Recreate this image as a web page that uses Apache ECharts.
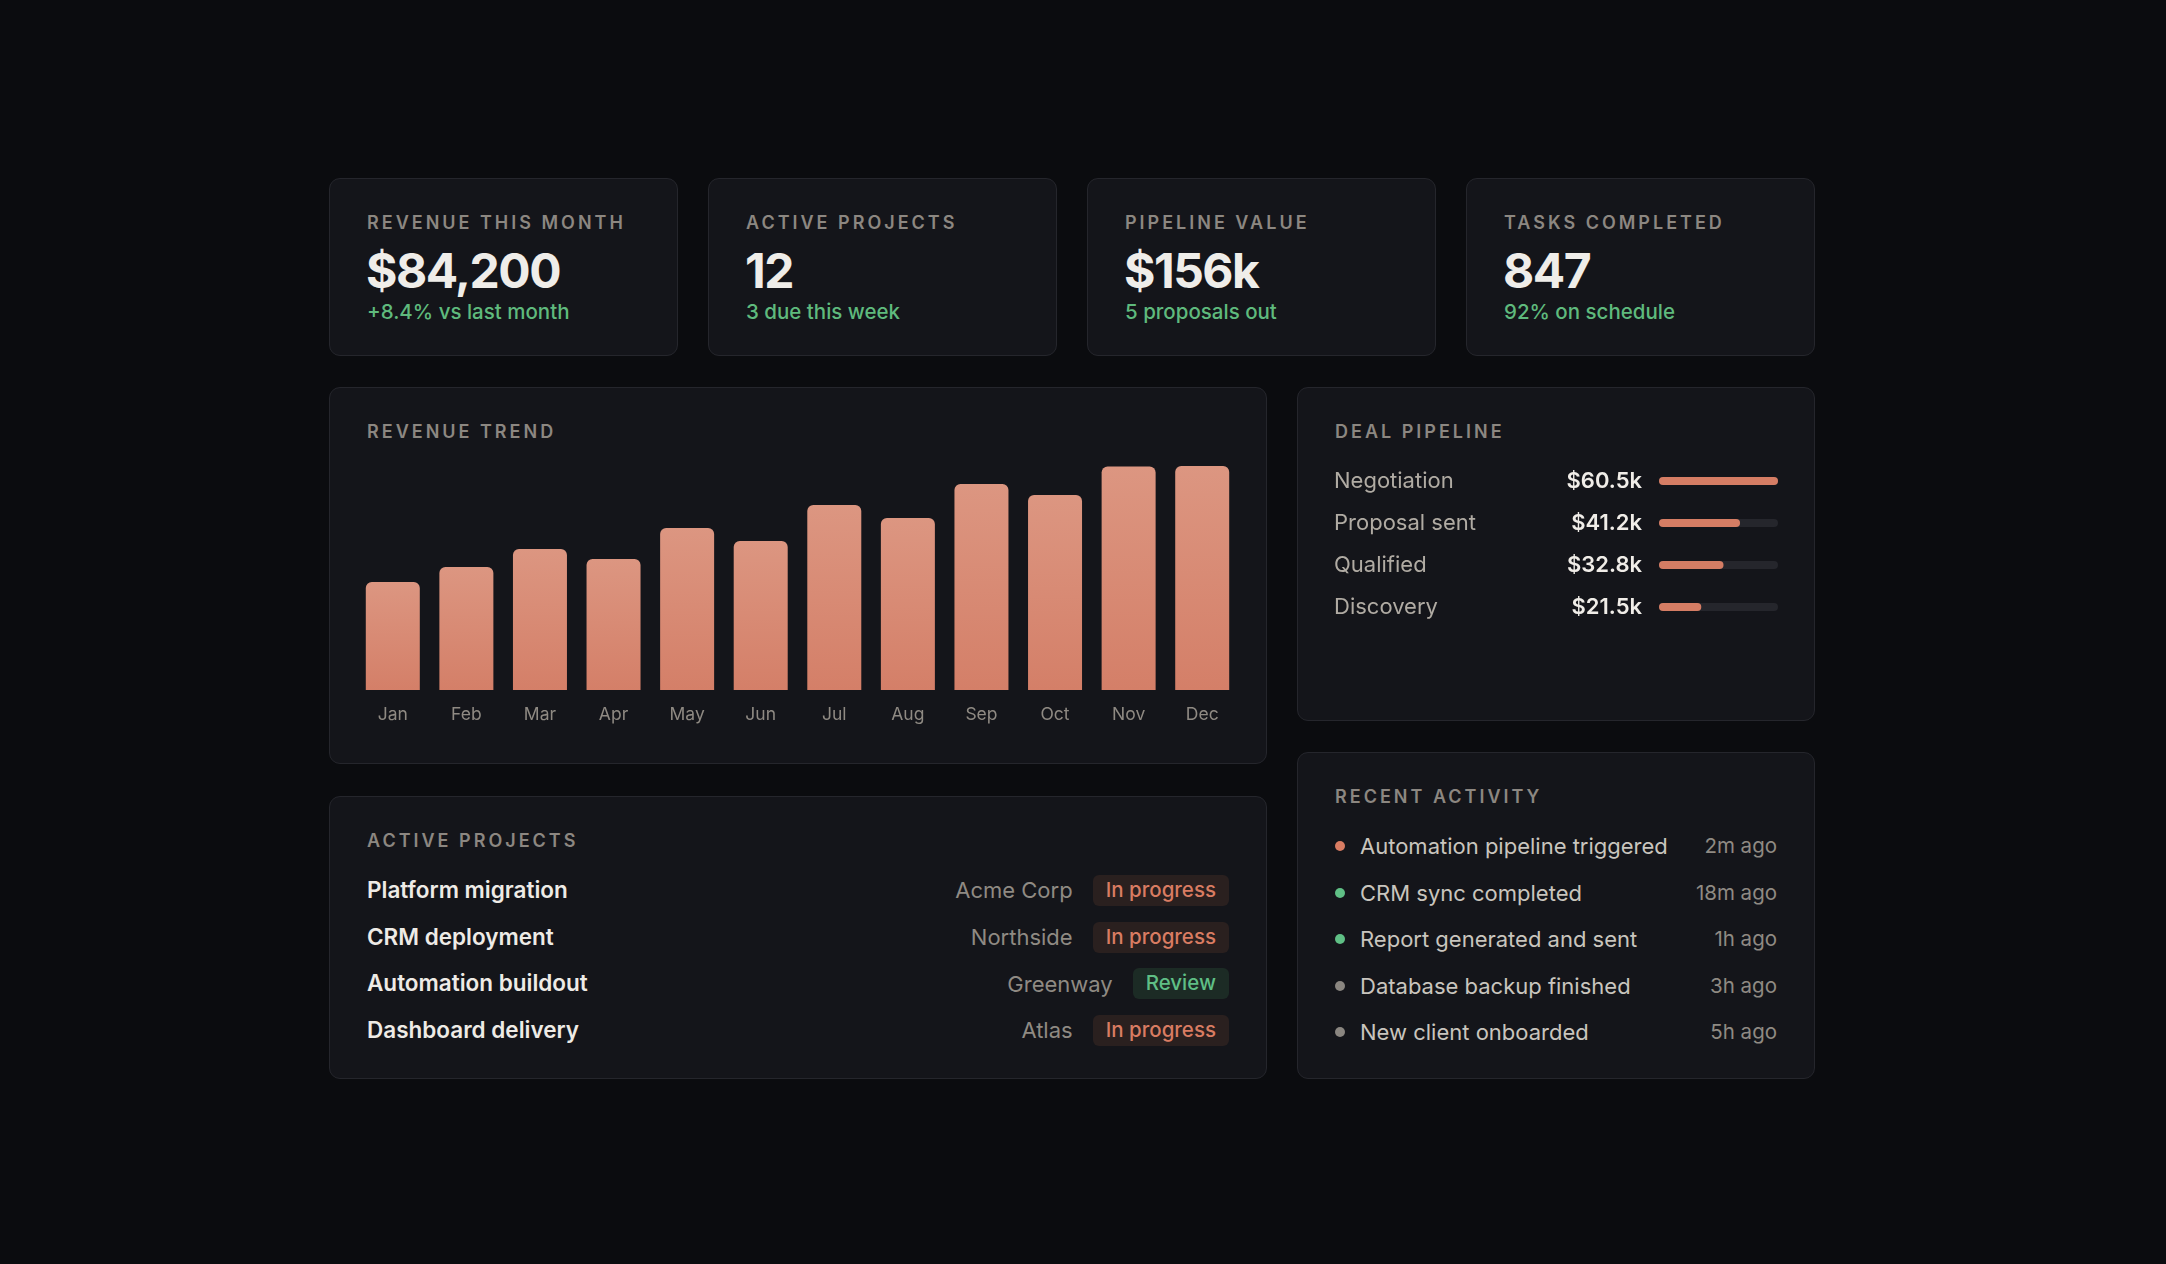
<!DOCTYPE html>
<html>
<head>
<meta charset="utf-8">
<title>Dashboard</title>
<script src="https://cdn.jsdelivr.net/npm/echarts@6/dist/echarts.min.js"></script>
<style>
  html, body { margin: 0; padding: 0; background: #0b0c0f; }
  body { width: 2166px; height: 1264px; position: relative; overflow: hidden; font-family: Inter, "Noto Sans", sans-serif; }
  .card { position: absolute; background: #14151a; border: 1.5px solid #25262c; border-radius: 11px; box-sizing: border-box; }
  .t { position: absolute; line-height: 1; white-space: nowrap; }
  .label { font-size: 18px; font-weight: 600; letter-spacing: 3px; color: #8c8781; left: 37px; top: 35px; }
  .value { font-size: 48px; font-weight: 700; letter-spacing: -1.5px; color: #efede9; left: 36px; top: 68px; }
  .sub { font-size: 20.5px; font-weight: 500; color: #5fba7d; left: 37px; top: 123px; }
  .rows { position: absolute; left: 37px; right: 37px; }
  .row { display: flex; align-items: center; line-height: 1; white-space: nowrap; }
  .pname { font-size: 22.5px; font-weight: 600; color: #eeebe6; flex: 1; }
  .client { font-size: 22px; color: #8f8a83; margin-right: 20px; }
  .badge { font-size: 20.5px; font-weight: 500; height: 31px; padding: 0 13px; border-radius: 6px; display: flex; align-items: center; }
  .badge.prog { background: #2a201f; color: #d97c62; }
  .badge.rev { background: #1c2b25; color: #5fbf85; }
  .dot { width: 10px; height: 10px; border-radius: 50%; margin: 0 15px 0 0; }
  .atext { font-size: 22px; color: #c9c5be; flex: 1; }
  .atime { font-size: 20.5px; color: #8f8a83; }
  .chart { position: absolute; }
</style>
</head>
<body>
<div id="kpis"></div>

<div class="card" style="left:329px;top:387px;width:938px;height:377px;">
  <div class="t label">REVENUE TREND</div>
</div>
<div class="card" style="left:1297px;top:387px;width:518px;height:334px;">
  <div class="t label">DEAL PIPELINE</div>
</div>
<div class="card" style="left:329px;top:796px;width:938px;height:283px;">
  <div class="t label">ACTIVE PROJECTS</div>
  <div class="rows" id="projects" style="top:70px;"></div>
</div>
<div class="card" style="left:1297px;top:752px;width:518px;height:327px;">
  <div class="t label">RECENT ACTIVITY</div>
  <div class="rows" id="activity" style="top:70px;"></div>
</div>

<div class="chart" id="trend" style="left:356px;top:456px;width:883px;height:290px;"></div>
<div class="chart" id="pipeline" style="left:1331px;top:460px;width:447px;height:168px;"></div>

<script>
// KPI cards
const kpiLabels = ['REVENUE THIS MONTH', 'ACTIVE PROJECTS', 'PIPELINE VALUE', 'TASKS COMPLETED'];
const kpiValues = ['$84,200', '12', '$156k', '847'];
const kpiNotes = ['+8.4% vs last month', '3 due this week', '5 proposals out', '92% on schedule'];

// revenue trend, $k per month
const months = ['Jan', 'Feb', 'Mar', 'Apr', 'May', 'Jun', 'Jul', 'Aug', 'Sep', 'Oct', 'Nov', 'Dec'];
const revenue = [40.6, 46.2, 53.0, 49.2, 60.9, 56.0, 69.5, 64.7, 77.4, 73.3, 84.0, 84.2];

// deal pipeline, $k per stage
const stages = ['Negotiation', 'Proposal sent', 'Qualified', 'Discovery'];
const stageValues = [60.5, 41.2, 32.8, 21.5];

// active projects
const projectNames = ['Platform migration', 'CRM deployment', 'Automation buildout', 'Dashboard delivery'];
const projectClients = ['Acme Corp', 'Northside', 'Greenway', 'Atlas'];
const projectStatus = ['In progress', 'In progress', 'Review', 'In progress'];

// recent activity
const activityText = ['Automation pipeline triggered', 'CRM sync completed', 'Report generated and sent', 'Database backup finished', 'New client onboarded'];
const activityTime = ['2m ago', '18m ago', '1h ago', '3h ago', '5h ago'];
const activityKind = ['run', 'ok', 'ok', 'idle', 'idle'];

const dotColors = { run: '#d97c62', ok: '#5fbf85', idle: '#8a8680' };

let kpiHtml = '';
kpiLabels.forEach(function (lbl, i) {
    const left = 329 + i * 379;
    kpiHtml += '<div class="card" style="left:' + left + 'px;top:178px;width:349px;height:178px;">' +
        '<div class="t label">' + lbl + '</div>' +
        '<div class="t value">' + kpiValues[i] + '</div>' +
        '<div class="t sub">' + kpiNotes[i] + '</div></div>';
});
document.getElementById('kpis').innerHTML = kpiHtml;

let projHtml = '';
projectNames.forEach(function (name, i) {
    const cls = projectStatus[i] === 'Review' ? 'rev' : 'prog';
    projHtml += '<div class="row" style="height:46.7px;">' +
        '<div class="pname">' + name + '</div>' +
        '<div class="client">' + projectClients[i] + '</div>' +
        '<div class="badge ' + cls + '">' + projectStatus[i] + '</div></div>';
});
document.getElementById('projects').innerHTML = projHtml;

let actHtml = '';
activityText.forEach(function (txt, i) {
    actHtml += '<div class="row" style="height:46.5px;">' +
        '<div class="dot" style="background:' + dotColors[activityKind[i]] + '"></div>' +
        '<div class="atext">' + txt + '</div>' +
        '<div class="atime">' + activityTime[i] + '</div></div>';
});
document.getElementById('activity').innerHTML = actHtml;

// revenue trend bars
let trendChart = echarts.init(document.getElementById('trend'));
trendChart.setOption({
    animation: false,
    textStyle: { fontFamily: 'Inter' },
    grid: { left: 0, right: 0, top: 10, bottom: 56 },
    xAxis: {
        type: 'category',
        data: months,
        axisLine: { show: false },
        axisTick: { show: false },
        axisLabel: { color: '#8f8a83', fontSize: 17.5, margin: 16 }
    },
    yAxis: { type: 'value', min: 0, max: Math.max.apply(null, revenue), show: false, splitLine: { show: false } },
    series: [{
        type: 'bar',
        data: revenue,
        barWidth: 54,
        itemStyle: {
            borderRadius: [6, 6, 0, 0],
            color: new echarts.graphic.LinearGradient(0, 0, 0, 1, [
                { offset: 0, color: '#dc9681' },
                { offset: 1, color: '#d47f68' }
            ])
        }
    }]
});

// deal pipeline progress bars
let pipeChart = echarts.init(document.getElementById('pipeline'));
pipeChart.setOption({
    animation: false,
    textStyle: { fontFamily: 'Inter' },
    grid: { left: 325, right: 0, top: 0, bottom: 0 },
    xAxis: { type: 'value', min: 0, max: Math.max.apply(null, stageValues), show: false, splitLine: { show: false } },
    yAxis: {
        type: 'category',
        inverse: true,
        data: stages,
        axisLine: { show: false },
        axisTick: { show: false },
        axisLabel: { color: '#b0aba3', fontSize: 22, align: 'left', margin: 325 }
    },
    series: [{
        type: 'bar',
        data: stageValues,
        barWidth: 8,
        showBackground: true,
        backgroundStyle: { color: '#25262c', borderRadius: 4 },
        itemStyle: { color: '#d57d64', borderRadius: 4 },
        label: {
            show: true,
            position: 'left',
            distance: 17,
            color: '#f0ede8',
            fontSize: 22,
            fontWeight: 600,
            formatter: function (p) { return '$' + p.value.toFixed(1) + 'k'; }
        }
    }]
});
</script>
</body>
</html>
